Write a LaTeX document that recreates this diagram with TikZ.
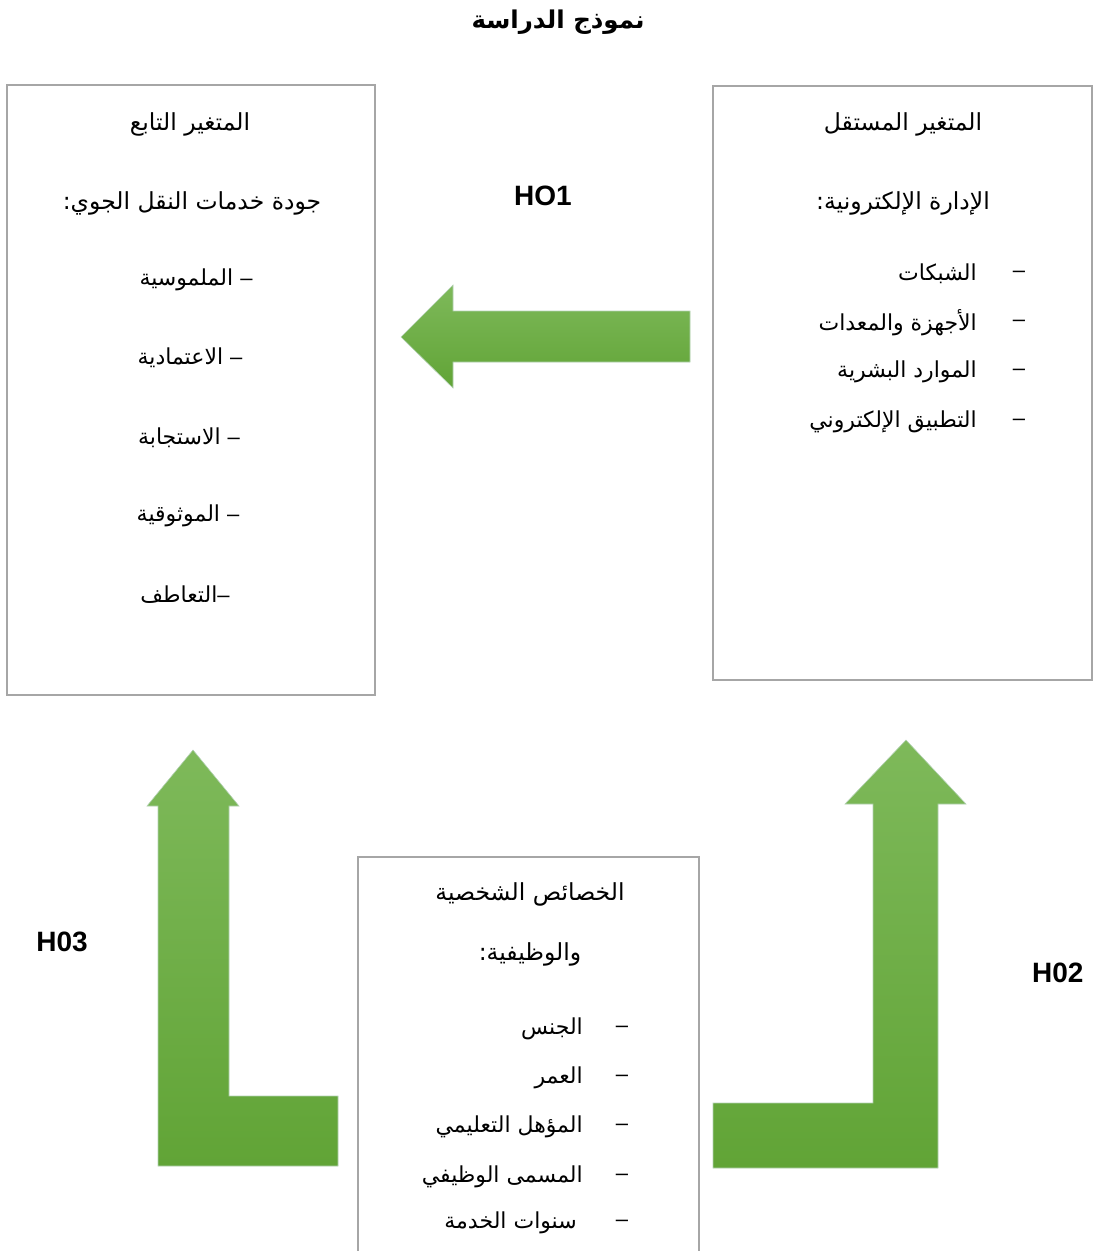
\documentclass[tikz,border=0pt]{standalone}
\usepackage{fontspec}
\TeXXeTstate=1
\newfontfamily\arabicfont[Script=Arabic]{DejaVu Sans}
\newfontfamily\latinfont{Liberation Sans}
\newcommand\dsh{{\latinfont –}}
\begin{document}
\begin{tikzpicture}[x=1pt,y=-1pt,
  box/.style={draw=black!35,line width=1.6pt},
  txt/.style={inner sep=0pt,font=\arabicfont\fontsize{22}{26}\selectfont},
  head/.style={inner sep=0pt,font=\arabicfont\fontsize{23.5}{28}\selectfont},
  dashmark/.style={inner sep=0pt,font=\latinfont\fontsize{22}{26}\selectfont},
  blockarrow/.style={draw=green!40!black!30!white,line width=0.6pt,top color=arrowtop,bottom color=arrowbot},
  hlabel/.style={inner sep=0pt,font=\latinfont\bfseries\fontsize{28}{32}\selectfont}]
\definecolor{arrowtop}{HTML}{7EB95A}
\definecolor{arrowbot}{HTML}{61A436}
\useasboundingbox (0,0) rectangle (1093,1251);
% title
\node[inner sep=0pt,font=\arabicfont\bfseries\fontsize{24.5}{28}\selectfont] (title) at (558,22) {\beginR نموذج الدراسة\endR};
% boxes
\draw[box] (7,85) rectangle (375,695);
\draw[box] (713,86) rectangle (1092,680);
\draw[box] (358,857) rectangle (699,1262);
% left box text
\node[head] (l1) at (190,124) {\beginR المتغير التابع\endR};
\node[head] (l2) at (192,203) {\beginR جودة خدمات النقل الجوي:\endR};
\node[txt] (l3) at (196,280) {\beginR \dsh{} الملموسية\endR};
\node[txt] (l4) at (190,358) {\beginR \dsh{} الاعتمادية\endR};
\node[txt] (l5) at (189,438) {\beginR \dsh{} الاستجابة\endR};
\node[txt] (l6) at (188,516) {\beginR \dsh{} الموثوقية\endR};
\node[txt] (l7) at (185,595) {\beginR \dsh التعاطف\endR};
% right box text
\node[head] (r1) at (903,124) {\beginR المتغير المستقل\endR};
\node[head] (r2) at (903,203) {\beginR الإدارة الإلكترونية:\endR};
\node[txt,anchor=east] (r3) at (977,274) {\beginR الشبكات\endR};
\node[txt,anchor=east] (r4) at (977,323) {\beginR الأجهزة والمعدات\endR};
\node[txt,anchor=east] (r5) at (977,372) {\beginR الموارد البشرية\endR};
\node[txt,anchor=east] (r6) at (977,422) {\beginR التطبيق الإلكتروني\endR};
\foreach \y/\n in {274/a,323/b,372/c,422/d} \node[dashmark] (rd\n) at (1019,\y) {–};
% bottom box text
\node[head] (b1) at (530,894) {\beginR الخصائص الشخصية\endR};
\node[head] (b2) at (530,954) {\beginR والوظيفية:\endR};
\node[txt,anchor=east] (b3) at (583,1029) {\beginR الجنس\endR};
\node[txt,anchor=east] (b4) at (583,1078) {\beginR العمر\endR};
\node[txt,anchor=east] (b5) at (583,1127) {\beginR المؤهل التعليمي\endR};
\node[txt,anchor=east] (b6) at (583,1177) {\beginR المسمى الوظيفي\endR};
\node[txt,anchor=east] (b7) at (577,1223) {\beginR سنوات الخدمة\endR};
\foreach \y/\n in {1029/a,1078/b,1127/c,1177/d,1223/e} \node[dashmark] (bd\n) at (622,\y) {–};
% arrows
\path[blockarrow] (401,337) -- (453,285) -- (453,311) -- (690,311) -- (690,362) -- (453,362) -- (453,388) -- cycle;
\path[blockarrow] (193,750) -- (239,806) -- (229,806) -- (229,1096) -- (338,1096) -- (338,1166) -- (158,1166) -- (158,806) -- (147,806) -- cycle;
\path[blockarrow] (906,740) -- (966,804) -- (938,804) -- (938,1168) -- (713,1168) -- (713,1103) -- (873,1103) -- (873,804) -- (845,804) -- cycle;
% labels
\node[hlabel] (h1) at (543,196) {HO1};
\node[hlabel] (h3) at (62,942) {H03};
\node[hlabel,anchor=west] (h2) at (1032,973) {H02};
\end{tikzpicture}
\end{document}
